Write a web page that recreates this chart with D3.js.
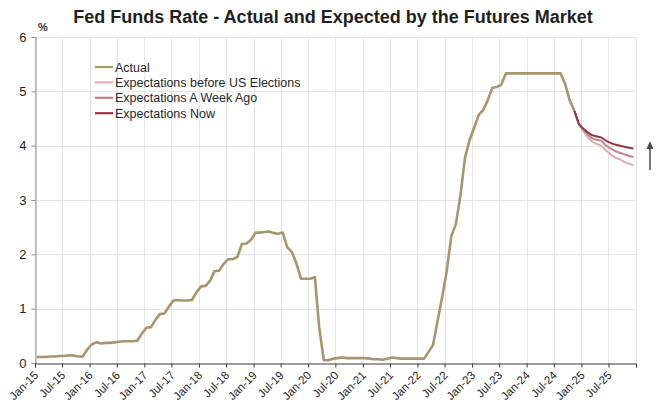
<!DOCTYPE html>
<html>
<head>
<meta charset="utf-8">
<script src="https://cdn.jsdelivr.net/npm/d3@7/dist/d3.min.js"></script>
<style>
  body { margin: 0; background: #fff; }
  svg { display: block; }
  text { font-family: "Liberation Sans", Arial, sans-serif; }
</style>
</head>
<body>
<svg id="chart" width="661" height="403"></svg>
<script>
// ---- Data -------------------------------------------------------------
const chartTitle = "Fed Funds Rate - Actual and Expected by the Futures Market";
const unitLabel = "%";

// Effective fed funds rate, monthly averages from Jan 2015
const actualStart = "2015-01";
const actualRates = [
  0.11, 0.11, 0.11, 0.12, 0.12, 0.13, 0.13, 0.14, 0.14, 0.12, 0.12, 0.24, // 2015
  0.34, 0.38, 0.36, 0.37, 0.37, 0.38, 0.39, 0.40, 0.40, 0.40, 0.41, 0.54, // 2016
  0.65, 0.66, 0.79, 0.90, 0.91, 1.04, 1.15, 1.16, 1.15, 1.15, 1.16, 1.30, // 2017
  1.41, 1.42, 1.51, 1.69, 1.70, 1.82, 1.91, 1.91, 1.95, 2.19, 2.20, 2.27, // 2018
  2.40, 2.40, 2.41, 2.42, 2.39, 2.38, 2.40, 2.13, 2.04, 1.83, 1.55, 1.55, // 2019
  1.55, 1.58, 0.65, 0.05, 0.05, 0.08, 0.09, 0.10, 0.09, 0.09, 0.09, 0.09, // 2020
  0.09, 0.08, 0.07, 0.07, 0.06, 0.08, 0.10, 0.09, 0.08, 0.08, 0.08, 0.08, // 2021
  0.08, 0.08, 0.20, 0.33, 0.77, 1.21, 1.68, 2.33, 2.56, 3.08, 3.78, 4.10, // 2022
  4.33, 4.57, 4.65, 4.83, 5.06, 5.08, 5.12, 5.33, 5.33, 5.33, 5.33, 5.33, // 2023
  5.33, 5.33, 5.33, 5.33, 5.33, 5.33, 5.33, 5.33, 5.13, 4.83, 4.64        // 2024
];

// Futures-implied path, Nov 2024 to Dec 2025 (first point = last actual)
const expectationStart = "2024-11";
const expBeforeElections = [4.64, 4.38, 4.26, 4.15, 4.07, 4.03, 4.00, 3.91, 3.84, 3.78, 3.75, 3.70, 3.67, 3.64];
const expWeekAgo         = [4.64, 4.40, 4.29, 4.20, 4.13, 4.11, 4.09, 4.00, 3.95, 3.90, 3.87, 3.84, 3.81, 3.79];
const expNow             = [4.64, 4.40, 4.31, 4.24, 4.19, 4.17, 4.15, 4.09, 4.05, 4.02, 4.00, 3.98, 3.96, 3.95];

const seriesNames = ["Actual", "Expectations before US Elections", "Expectations A Week Ago", "Expectations Now"];
const seriesColors = ["#a8956b", "#dcaeae", "#c0858b", "#8e3a41"];

const xTickLabels = [
  "Jan-15", "Jul-15", "Jan-16", "Jul-16", "Jan-17", "Jul-17", "Jan-18", "Jul-18",
  "Jan-19", "Jul-19", "Jan-20", "Jul-20", "Jan-21", "Jul-21", "Jan-22", "Jul-22",
  "Jan-23", "Jul-23", "Jan-24", "Jul-24", "Jan-25", "Jul-25"
];
const xAxisEnd = "Jan-26";
const yTicks = [0, 1, 2, 3, 4, 5, 6];

// ---- Layout -----------------------------------------------------------
const plot = { left: 35, right: 636, top: 37, bottom: 363 };

const parseLabel = d3.timeParse("%b-%y");
const parseMonth = d3.timeParse("%Y-%m");

const x = d3.scaleTime()
  .domain([parseLabel(xTickLabels[0]), parseLabel(xAxisEnd)])
  .range([plot.left, plot.right]);
const y = d3.scaleLinear().domain([0, 6]).range([plot.bottom, plot.top]);

// monthly observations are placed mid-month
const monthSeries = (start, values) => {
  const s = parseMonth(start);
  return values.map((v, i) => ({ date: d3.timeDay.offset(d3.timeMonth.offset(s, i), 14), value: v }));
};

const series = [
  monthSeries(actualStart, actualRates),
  monthSeries(expectationStart, expBeforeElections),
  monthSeries(expectationStart, expWeekAgo),
  monthSeries(expectationStart, expNow)
];

const svg = d3.select("#chart");
const tickDates = xTickLabels.map(parseLabel).concat([parseLabel(xAxisEnd)]);

// ---- Grid -------------------------------------------------------------
const grid = svg.append("g").attr("stroke", "#e4e4e4").attr("stroke-width", 1);
grid.selectAll("line.v").data(tickDates).join("line")
  .attr("class", "v")
  .attr("x1", d => Math.round(x(d)) + 0.5).attr("x2", d => Math.round(x(d)) + 0.5)
  .attr("y1", plot.top).attr("y2", plot.bottom);
grid.selectAll("line.h").data(yTicks.filter(d => d > 0)).join("line")
  .attr("class", "h")
  .attr("x1", plot.left).attr("x2", plot.right)
  .attr("y1", d => Math.round(y(d)) + 0.5).attr("y2", d => Math.round(y(d)) + 0.5);

// ---- Y axis -----------------------------------------------------------
const yAxis = svg.append("g").attr("transform", `translate(${plot.left + 0.5},0)`)
  .call(d3.axisLeft(y).tickValues(yTicks).tickSize(4).tickPadding(5).tickFormat(d3.format("d")));
yAxis.select(".domain").attr("stroke", "#8c8c8c");
yAxis.selectAll(".tick line").attr("stroke", "#8c8c8c");
yAxis.selectAll(".tick text")
  .attr("font-size", 13).attr("fill", "#1e1e1e")
  .style("font-family", "'Liberation Sans', Arial, sans-serif");

// ---- X axis -----------------------------------------------------------
const xAxis = svg.append("g").attr("transform", `translate(0,${plot.bottom + 0.5})`)
  .call(d3.axisBottom(x).tickValues(tickDates).tickSize(4).tickFormat(() => ""));
xAxis.select(".domain").attr("stroke", "#3a3a3a");
xAxis.selectAll(".tick line").attr("stroke", "#3a3a3a");

svg.append("g").selectAll("text").data(xTickLabels).join("text")
  .attr("transform", d => `translate(${x(parseLabel(d)) + 4},${plot.bottom + 13}) rotate(-45)`)
  .attr("text-anchor", "end")
  .attr("font-size", 11.5)
  .attr("fill", "#1e1e1e")
  .text(d => d);

// ---- Lines ------------------------------------------------------------
const line = d3.line().x(d => x(d.date)).y(d => y(d.value));
const widths = [2.6, 2, 2, 2];
svg.append("g").selectAll("path").data(series).join("path")
  .attr("fill", "none")
  .attr("stroke", (d, i) => seriesColors[i])
  .attr("stroke-width", (d, i) => widths[i])
  .attr("stroke-linejoin", "round")
  .attr("d", line);

// ---- Legend -----------------------------------------------------------
const legend = svg.append("g").attr("transform", "translate(95,67)");
const rows = legend.selectAll("g").data(seriesNames).join("g")
  .attr("transform", (d, i) => `translate(0,${i * 15.4})`);
rows.append("line").attr("x1", 0).attr("x2", 18).attr("y1", 0).attr("y2", 0)
  .attr("stroke", (d, i) => seriesColors[i]).attr("stroke-width", 2.2);
rows.append("text").attr("x", 20).attr("y", 4.5)
  .attr("font-size", 12.5).attr("fill", "#262626").text(d => d);

// ---- Titles -----------------------------------------------------------
svg.append("text").attr("x", 333).attr("y", 23)
  .attr("text-anchor", "middle").attr("font-size", 18).attr("font-weight", "bold")
  .attr("fill", "#1f1f1f").text(chartTitle);
svg.append("text").attr("x", 43).attr("y", 31)
  .attr("text-anchor", "middle").attr("font-size", 11).attr("font-weight", "bold")
  .attr("fill", "#333").text(unitLabel);

// ---- Upward arrow beside the expectations -----------------------------
const arrow = svg.append("g").attr("fill", "#4a4a4a").attr("stroke", "#4a4a4a");
arrow.append("line").attr("x1", 650).attr("x2", 650).attr("y1", 170).attr("y2", 147).attr("stroke-width", 1.5);
arrow.append("path").attr("d", "M650,141 L646.5,149 L653.5,149 Z").attr("stroke", "none");
</script>
</body>
</html>
